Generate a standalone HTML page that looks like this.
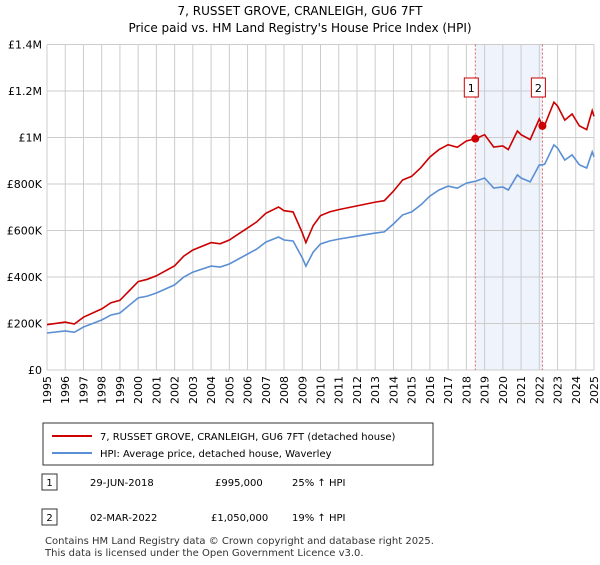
<!DOCTYPE html>
<html><head><meta charset="utf-8"><style>
body{margin:0;background:#fff;font-family:"Liberation Sans","DejaVu Sans",sans-serif}
svg text{font-family:"DejaVu Sans","Liberation Sans",sans-serif}
</style></head><body>
<svg id="c" width="600" height="560" viewBox="0 0 600 560">
<text x="300" y="15" text-anchor="middle" font-size="12">7, RUSSET GROVE, CRANLEIGH, GU6 7FT</text>
<text x="300" y="32" text-anchor="middle" font-size="12">Price paid vs. HM Land Registry's House Price Index (HPI)</text>
<g id="plot"></g>
<g>
<rect x="43" y="423" width="390" height="42" fill="#fff" stroke="#333"/>
<line x1="52" y1="436" x2="92" y2="436" stroke="#cc0000" stroke-width="2"/>
<text x="100" y="440" font-size="10">7, RUSSET GROVE, CRANLEIGH, GU6 7FT (detached house)</text>
<line x1="52" y1="453" x2="92" y2="453" stroke="#5b8fd4" stroke-width="2"/>
<text x="100" y="457" font-size="10">HPI: Average price, detached house, Waverley</text>
</g>
<g font-size="10">
<rect x="42" y="474" width="15" height="16" fill="#fff" stroke="#333"/><text x="49.5" y="486" text-anchor="middle">1</text>
<text x="90" y="486">29-JUN-2018</text><text x="215" y="486">£995,000</text><text x="292" y="486">25% ↑ HPI</text>
<rect x="42" y="509" width="15" height="16" fill="#fff" stroke="#333"/><text x="49.5" y="521" text-anchor="middle">2</text>
<text x="90" y="521">02-MAR-2022</text><text x="211" y="521">£1,050,000</text><text x="292" y="521">19% ↑ HPI</text>
</g>
<text x="45" y="544" font-size="10" fill="#333">Contains HM Land Registry data © Crown copyright and database right 2025.</text>
<text x="45" y="556" font-size="10" fill="#333">This data is licensed under the Open Government Licence v3.0.</text>
</svg>
<script>
const years=[1995.0,1996.0,1996.5,1997.0,1998.0,1998.5,1999.0,2000.0,2000.5,2001.0,2002.0,2002.5,2003.0,2004.0,2004.5,2005.0,2006.0,2006.5,2007.0,2007.7,2008.0,2008.5,2009.0,2009.2,2009.6,2010.0,2010.5,2011.0,2012.0,2013.0,2013.5,2014.0,2014.5,2015.0,2015.5,2016.0,2016.5,2017.0,2017.5,2018.0,2018.5,2019.0,2019.5,2020.0,2020.3,2020.8,2021.0,2021.5,2022.0,2022.17,2022.3,2022.8,2023.0,2023.4,2023.8,2024.2,2024.6,2024.9,2025.0];
const hpi=[159,168,162,185,215,236,245,310,318,331,366,400,421,447,443,456,499,520,550,572,559,555,482,447,507,542,555,563,576,589,594,628,667,680,710,748,774,791,782,804,812,826,783,787,774,839,826,809,882,882,886,968,955,903,925,882,869,938,917];
const price=[195,206,198,227,263,289,300,380,390,405,448,490,516,548,543,559,611,637,674,701,685,680,590,548,621,664,680,690,706,722,728,769,817,833,870,916,948,969,958,985,995,1012,959,964,948,1028,1012,991,1080,1050,1054,1152,1136,1075,1101,1050,1034,1116,1091];
const yTicks=[0,200,400,600,800,1000,1200,1400];
const yLabels=["£0","£200K","£400K","£600K","£800K","£1M","£1.2M","£1.4M"];
const xTicks=[1995,1996,1997,1998,1999,2000,2001,2002,2003,2004,2005,2006,2007,2008,2009,2010,2011,2012,2013,2014,2015,2016,2017,2018,2019,2020,2021,2022,2023,2024,2025];
const saleYears=[2018.49,2022.17];
const saleValues=[995,1050];
const saleLabels=["1","2"];
const L=47,R=594,T=44.5,B=370;
const xs=v=>L+(v-1995)/30*(R-L);
const ys=v=>B-v/1400*(B-T);
const NS="http://www.w3.org/2000/svg";
const g=document.getElementById('plot');
function mk(t,a){const e=document.createElementNS(NS,t);for(const k in a)e.setAttribute(k,a[k]);g.appendChild(e);return e;}
let sh=mk('rect',{x:xs(saleYears[0]),y:T,width:xs(saleYears[1])-xs(saleYears[0]),height:B-T,fill:'#eef3fc'});


xTicks.forEach(t=>{const l=mk('line',{x1:xs(t),x2:xs(t),y1:T,y2:B,stroke:'#cccccc'});


const tx=mk('text',{x:0,y:0,'font-size':11,'text-anchor':'end',transform:`translate(${xs(t)+4},${B+6}) rotate(-90)`});tx.textContent=t;

});
yTicks.forEach((t,i)=>{const l=mk('line',{x1:L,x2:R,y1:ys(t),y2:ys(t),stroke:'#cccccc'});


const tx=mk('text',{x:L-5,y:ys(t)+4,'font-size':11,'text-anchor':'end'});tx.textContent=yLabels[i];

});
saleYears.forEach((s,i)=>{const l=mk('line',{x1:xs(s),x2:xs(s),y1:T,y2:B,stroke:'#e06060','stroke-dasharray':'2,2'});

});
const path=(arr,col,name)=>{const p=mk('path',{d:arr.map((v,i)=>(i?'L':'M')+xs(years[i]).toFixed(1)+','+ys(v).toFixed(1)).join(''),fill:'none',stroke:col,'stroke-width':1.6});

};
path(hpi,'#5b8fd4','hpi-line');
path(price,'#cc0000','price-paid-line');
saleYears.forEach((s,i)=>{const c=mk('circle',{cx:xs(s),cy:ys(saleValues[i]),r:4,fill:'#cc0000'});


const bx=mk('rect',{x:xs(s)-11,y:78,width:14,height:19,fill:'#fff',stroke:'#cc0000'});


const t=mk('text',{x:xs(s)-4,y:92,'font-size':11,'text-anchor':'middle'});t.textContent=saleLabels[i];

});
</script>
</body></html>
